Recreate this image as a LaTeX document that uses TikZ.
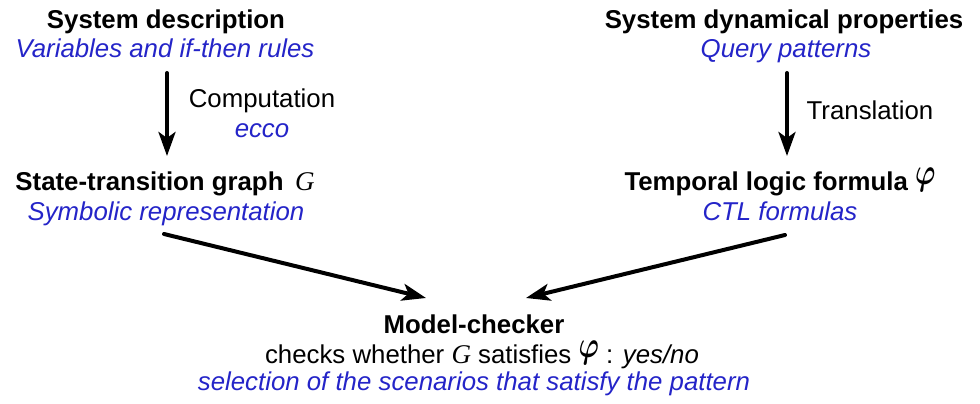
\documentclass[tikz,border=0pt]{standalone}
\usepackage{amsmath}
\usepackage{fontspec}
\setmainfont{Liberation Sans}
\newfontfamily\lserif{Liberation Serif}
\usetikzlibrary{arrows.meta}
\definecolor{subblue}{RGB}{36,36,200}
\newcommand{\symG}{{\lserif\mdseries\itshape\fontsize{27}{30}\selectfont G}}
\newcommand{\symphi}{\raisebox{5.5pt}{\scalebox{1.1}[1.5]{$\boldsymbol{\varphi}$}}}
\begin{document}
\begin{tikzpicture}[x=1pt,y=-1pt,
  txt/.style={anchor=base,inner sep=0pt,font=\fontsize{25.8}{30}\selectfont},
  ttl/.style={txt,font=\fontsize{25.8}{30}\selectfont\bfseries},
  sub/.style={txt,font=\fontsize{25.8}{30}\selectfont\itshape,text=subblue},
  arr/.style={line width=4pt,-{Stealth[length=24pt,width=17pt,inset=6pt]},line cap=round}]
\useasboundingbox (0,0) rectangle (980,404);
% top left
\node[ttl] (sd) at (166,29) {System description};
\node[sub] (sdv) at (165,58) {Variables and if-then rules};
\node[txt] (comp) at (262,107) {Computation};
\node[sub] (ecco) at (262,137) {ecco};
% top right
\node[ttl] (sp) at (784,29) {System dynamical properties};
\node[sub] (spq) at (786,58) {Query patterns};
\node[txt] (trans) at (870,119) {Translation};
% middle
\node[ttl] (stg) at (165,190) {State-transition graph \,\symG};
\node[sub] (stgs) at (166,220) {Symbolic representation};
\node[ttl] (tlf) at (780,190) {Temporal logic formula \symphi};
\node[sub] (tlfs) at (780,220) {CTL formulas};
% bottom
\node[ttl] (mc) at (474,333) {Model-checker};
\node[txt] (mcl) at (482,363) {checks whether \symG\ satisfies \symphi\ : \textit{yes/no}};
\node[sub] (mcs) at (474,390) {selection of the scenarios that satisfy the pattern};
% arrow ends
\coordinate (a1s) at (167,73);
\coordinate (a1e) at (167,156);
\coordinate (a2s) at (787,73);
\coordinate (a2e) at (787,156);
\coordinate (a3s) at (164,234);
\coordinate (a3e) at (426,298);
\coordinate (a4s) at (785,235);
\coordinate (a4e) at (526,298);
\draw[arr] (a1s) -- (a1e);
\draw[arr] (a2s) -- (a2e);
\draw[arr] (a3s) -- (a3e);
\draw[arr] (a4s) -- (a4e);
\end{tikzpicture}
\end{document}
